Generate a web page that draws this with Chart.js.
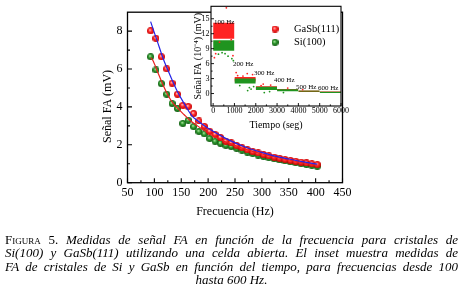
<!DOCTYPE html>
<html><head><meta charset="utf-8">
<script src="https://cdn.jsdelivr.net/npm/chart.js@4.4.1/dist/chart.umd.min.js"></script>
<style>
html,body{margin:0;padding:0;background:#fff}
body{width:462px;height:299px;overflow:hidden;position:relative}
#main,#inset{position:absolute;left:0;top:0}
#cap{position:absolute;left:5px;top:233px;width:453px;font-family:"Liberation Serif","Times New Roman",serif;font-size:13px;line-height:13.3px;color:#000}
#cap div{text-align:justify;text-align-last:justify}
#cap div.c{text-align:center;text-align-last:center}
#cap i{font-style:italic}
.sc{font-variant:small-caps}
</style></head>
<body>
<canvas id="main" width="462" height="222"></canvas>
<canvas id="inset" width="462" height="222"></canvas>
<div id="cap">
<div><span class="sc">Figura</span> 5. <i>Medidas de señal FA en función de la frecuencia para cristales de</i></div>
<div><i>Si(100) y GaSb(111) utilizando una celda abierta. El inset muestra medidas de</i></div>
<div><i>FA de cristales de Si y GaSb en función del tiempo, para frecuencias desde 100</i></div>
<div class="c"><i>hasta 600 Hz.</i></div>
</div>
<script>
// ---------- main chart data ----------
const freq = [93,103,113,123,133,143,153,163,173,183,193,203,213,223,233,243,253,263,273,283,293,303,313,323,333,343,353,363,373,383,393,403];
const gasb = [8.02,7.62,6.65,6.01,5.25,4.67,4.08,4.02,3.65,3.26,2.97,2.71,2.55,2.39,2.19,2.10,1.97,1.85,1.74,1.64,1.57,1.49,1.42,1.35,1.29,1.23,1.18,1.13,1.09,1.04,1.00,0.96];
const si   = [6.65,5.95,5.23,4.67,4.18,3.92,3.13,3.30,2.96,2.70,2.58,2.33,2.19,2.08,1.97,1.91,1.82,1.72,1.62,1.54,1.46,1.39,1.32,1.26,1.20,1.15,1.10,1.05,1.00,0.96,0.92,0.87];
const fitGaSbX = [93,105,117,130,144,155,169,180,191,210,230,250,275,300,325,350,375,403];
const fitGaSb  = [8.5,7.5,6.5,5.62,4.75,4.2,3.56,3.28,3.05,2.7,2.38,2.1,1.82,1.6,1.4,1.25,1.11,0.98];
const fitSiX = [93,97,107,117,126,135,145,155,166,180,194,210,222,249,275,300,325,350,375,403];
const fitSi  = [6.6,6.46,5.78,5.1,4.58,4.19,3.88,3.6,3.3,3.0,2.74,2.45,2.28,1.98,1.72,1.52,1.35,1.2,1.06,0.92];
const xTickValues = [50,100,150,200,250,300,350,400,450];
const yTickValues = [0,2,4,6,8];
const xTitle = 'Frecuencia (Hz)';
const yTitle = 'Señal FA (mV)';

// ---------- inset data ----------
const seriesNames = ['GaSb(111)','Si(100)'];
const segStart = [0,1000,2000,3000,4000,5000];
const segEnd   = [1000,2000,3000,4000,5000,6000];
const gasbHi = [14.2,3.3,1.45,0.9,0.62,0.4];
const gasbLo = [11.0,2.4,0.85,0.55,0.38,0.2];
const siHi   = [10.7,3.0,1.35,0.85,0.55,0.38];
const siLo   = [8.6,2.0,0.7,0.45,0.3,0.12];
const gasbOutT = [620,60,120,850,930,300,1080,1150,1600,1850,1400,2250,2350,2700,3500,4200];
const gasbOutV = [17.2,7.2,8.0,10.8,7.6,10.3,4.2,3.6,4.0,3.8,3.5,1.6,1.9,1.7,1.1,0.8];
const siOutT = [250,420,700,950,880,560,1620,1700,1900,1250,1780,2400,2650,3300];
const siOutV = [7.9,8.2,7.5,6.6,7.0,8.0,0.6,1.2,1.4,1.6,0.9,0.2,0.4,0.2];
const annText = ['100 Hz','200 Hz','300 Hz','400 Hz','500 Hz','600 Hz'];
const annT = [40,930,1920,2860,3890,4920];
const annV = [14.4,5.85,4.1,2.74,1.38,0.99];
const timeTicks = [0,1000,2000,3000,4000,5000,6000];
const insetYTicks = [0,3,6,9,12,15];
const insetXTitle = 'Tiempo (seg)';
const insetYTitle = 'Señal FA (10⁻⁴) (mV)';

const FONT = '"Liberation Serif", "Times New Roman", serif';
const plain = v => String(v);

function ball(c1, c2, c3, d) {
  const cv = document.createElement('canvas');
  cv.width = d; cv.height = d;
  const g = cv.getContext('2d');
  const r = d / 2;
  const grd = g.createRadialGradient(r * 0.8, r * 0.75, 0.2, r, r, r);
  grd.addColorStop(0, c1); grd.addColorStop(0.45, c2); grd.addColorStop(1, c3);
  g.fillStyle = grd;
  g.beginPath(); g.arc(r, r, r, 0, Math.PI * 2); g.fill();
  return cv;
}
const redBall = ball('#ffc8c8', '#ff2a2a', '#c80000', 7);
const greenBall = ball('#b8e8a8', '#2f9a2f', '#0e5a0e', 7);

function drawTicks(ctx, scale, vals, a, horiz, major, minor) {
  ctx.beginPath();
  vals.forEach((v, i) => {
    const p = scale.getPixelForValue(v);
    if (horiz) { ctx.moveTo(p, a.bottom); ctx.lineTo(p, a.bottom - major); }
    else { ctx.moveTo(a.left, p); ctx.lineTo(a.left + major, p); }
    if (i < vals.length - 1) {
      const m = scale.getPixelForValue((v + vals[i + 1]) / 2);
      if (horiz) { ctx.moveTo(m, a.bottom); ctx.lineTo(m, a.bottom - minor); }
      else { ctx.moveTo(a.left, m); ctx.lineTo(a.left + minor, m); }
    }
  });
  ctx.stroke();
}

const mainDecor = {
  id: 'mainDecor',
  afterDraw(chart) {
    const { ctx, chartArea: a, scales: { x, y } } = chart;
    ctx.save();
    ctx.strokeStyle = '#000'; ctx.lineWidth = 1.3;
    ctx.strokeRect(a.left, a.top, a.right - a.left, a.bottom - a.top);
    ctx.lineWidth = 1.1;
    drawTicks(ctx, x, xTickValues, a, true, 4.5, 2.5);
    drawTicks(ctx, y, yTickValues, a, false, 4.5, 2.5);
    ctx.translate(a.left - 20, (a.top + a.bottom) / 2 + 9);
    ctx.rotate(-Math.PI / 2);
    ctx.font = '12px ' + FONT; ctx.textAlign = 'center'; ctx.textBaseline = 'middle'; ctx.fillStyle = '#000';
    ctx.fillText(yTitle, 0, 0);
    ctx.restore();
  }
};

new Chart(document.getElementById('main'), {
  type: 'scatter',
  data: {
    datasets: [
      { label: 'fit GaSb', type: 'line', data: fitGaSbX.map((v, i) => ({ x: v, y: fitGaSb[i] })), borderColor: '#2424e6', borderWidth: 1.2, pointRadius: 0, tension: 0.4, cubicInterpolationMode: 'monotone', fill: false, order: 0 },
      { label: 'fit Si', type: 'line', data: fitSiX.map((v, i) => ({ x: v, y: fitSi[i] })), borderColor: '#e82020', borderWidth: 1.2, pointRadius: 0, tension: 0.4, cubicInterpolationMode: 'monotone', fill: false, order: 0 },
      { label: seriesNames[0], data: freq.map((v, i) => ({ x: v, y: gasb[i] })), pointStyle: redBall, pointRadius: 3.5, order: 1 },
      { label: seriesNames[1], data: freq.map((v, i) => ({ x: v, y: si[i] })), pointStyle: greenBall, pointRadius: 3.5, order: 1 }
    ]
  },
  options: {
    responsive: false, animation: false, events: [],
    layout: { padding: { left: 100, right: 119.5, top: 6, bottom: 0 } },
    plugins: { legend: { display: false }, tooltip: { enabled: false } },
    scales: {
      x: {
        type: 'linear', min: 50, max: 450,
        afterBuildTicks: s => { s.ticks = xTickValues.map(v => ({ value: v })); },
        afterFit: s => { s.height = 39.3; },
        grid: { display: false, drawTicks: false }, border: { display: false },
        ticks: { color: '#000', font: { family: FONT, size: 12 }, padding: 3, autoSkip: false, maxRotation: 0, callback: plain },
        title: { display: true, text: xTitle, color: '#000', font: { family: FONT, size: 12 }, padding: { top: 0, bottom: 3 } }
      },
      y: {
        type: 'linear', min: 0, max: 9,
        afterBuildTicks: s => { s.ticks = yTickValues.map(v => ({ value: v })); },
        afterFit: s => { s.width = 27.5; },
        grid: { display: false, drawTicks: false }, border: { display: false },
        ticks: { color: '#000', font: { family: FONT, size: 12 }, padding: 5, autoSkip: false, callback: plain }
      }
    }
  },
  plugins: [mainDecor]
});

// ---------- inset ----------
const insetDecor = {
  id: 'insetDecor',
  beforeDraw(chart) {
    const { ctx, chartArea: a } = chart;
    ctx.save(); ctx.fillStyle = '#fff';
    ctx.fillRect(a.left, a.top, a.right - a.left, a.bottom - a.top);
    ctx.restore();
  },
  afterDraw(chart) {
    const { ctx, chartArea: a, scales: { x, y } } = chart;
    ctx.save();
    ctx.strokeStyle = '#000'; ctx.lineWidth = 1.1;
    ctx.strokeRect(a.left, a.top, a.right - a.left, a.bottom - a.top);
    ctx.lineWidth = 0.9;
    drawTicks(ctx, x, timeTicks, a, true, 3, 1.6);
    drawTicks(ctx, y, insetYTicks, a, false, 3, 1.6);
    ctx.fillStyle = '#000';
    ctx.font = '7px ' + FONT; ctx.textAlign = 'left'; ctx.textBaseline = 'middle';
    annText.forEach((t, i) => ctx.fillText(t, x.getPixelForValue(annT[i]), y.getPixelForValue(annV[i])));
    const balls = [redBall, greenBall];
    ctx.font = '10.5px ' + FONT;
    seriesNames.forEach((n, i) => {
      const ly = a.top + 22.7 + i * 13.3;
      ctx.drawImage(balls[i], a.left + 64 - 3.5, ly - 3.5);
      ctx.fillText(n, a.left + 83, ly);
    });
    ctx.restore();
  }
};

const bandSets = [];
segStart.forEach((t0, i) => {
  bandSets.push({ label: seriesNames[0] + ' ' + annText[i], type: 'line', data: [{ x: t0, y: gasbHi[i] }, { x: segEnd[i], y: gasbHi[i] }],
    fill: { value: gasbLo[i] }, backgroundColor: i === 4 ? 'rgba(150,85,20,0.95)' : '#ff2323', borderWidth: 0, pointRadius: 0, order: i === 4 ? 3 : 5 });
  bandSets.push({ label: seriesNames[1] + ' ' + annText[i], type: 'line', data: [{ x: t0, y: siHi[i] }, { x: segEnd[i], y: siHi[i] }],
    fill: { value: siLo[i] }, backgroundColor: '#1f941f', borderWidth: 0, pointRadius: 0, order: 4 });
});
bandSets.push({ label: seriesNames[0] + ' dispersión', data: gasbOutT.map((t, i) => ({ x: t, y: gasbOutV[i] })), pointRadius: 0.9, pointBackgroundColor: '#ff2323', pointBorderWidth: 0, order: 2 });
bandSets.push({ label: seriesNames[1] + ' dispersión', data: siOutT.map((t, i) => ({ x: t, y: siOutV[i] })), pointRadius: 0.9, pointBackgroundColor: '#1f941f', pointBorderWidth: 0, order: 2 });

new Chart(document.getElementById('inset'), {
  type: 'scatter',
  data: { datasets: bandSets },
  options: {
    responsive: false, animation: false, events: [],
    layout: { padding: { left: 190, right: 121, top: 3, bottom: 89 } },
    plugins: { legend: { display: false }, tooltip: { enabled: false } },
    scales: {
      x: {
        type: 'linear', min: -100, max: 6000,
        afterBuildTicks: s => { s.ticks = timeTicks.map(v => ({ value: v })); },
        afterFit: s => { s.height = 27; },
        grid: { display: false, drawTicks: false }, border: { display: false },
        ticks: { color: '#000', font: { family: FONT, size: 8 }, padding: 0, autoSkip: false, maxRotation: 0, callback: plain },
        title: { display: true, text: insetXTitle, color: '#000', font: { family: FONT, size: 10 }, padding: { top: 0, bottom: 1.5 } }
      },
      y: {
        type: 'linear', min: -2.5, max: 17.5,
        afterBuildTicks: s => { s.ticks = insetYTicks.map(v => ({ value: v })); },
        afterFit: s => { s.width = 21; },
        grid: { display: false, drawTicks: false }, border: { display: false },
        ticks: { color: '#000', font: { family: FONT, size: 8 }, padding: 1.5, autoSkip: false, callback: plain },
        title: { display: true, text: insetYTitle, color: '#000', font: { family: FONT, size: 10 }, padding: { top: 2.5, bottom: 0 } }
      }
    }
  },
  plugins: [insetDecor]
});
</script>
</body></html>
